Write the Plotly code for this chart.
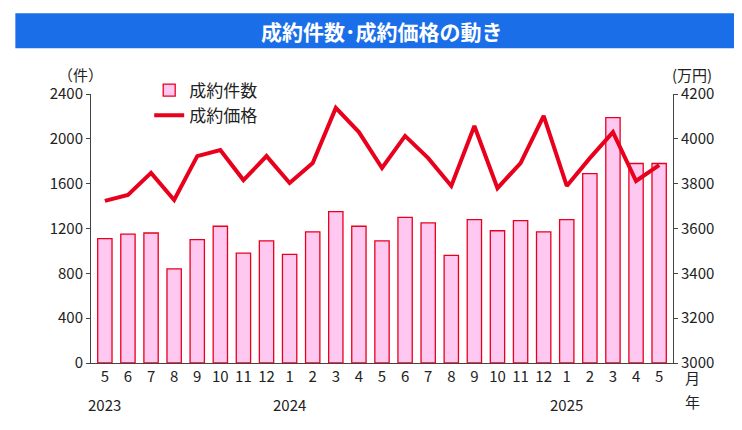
import plotly.graph_objects as go

months = ["5", "6", "7", "8", "9", "10", "11", "12", "1", "2", "3", "4", "5", "6", "7", "8",
          "9", "10", "11", "12", "1", "2", "3", "4", "5"]
years = {0: "2023", 8: "2024", 20: "2025"}
counts = [1110, 1150, 1160, 840, 1100, 1220, 980, 1090, 970, 1170, 1350, 1220, 1090, 1300,
          1250, 960, 1280, 1180, 1270, 1170, 1280, 1690, 2190, 1780, 1780]
prices = [3723, 3750, 3848, 3727, 3923, 3950, 3816, 3923, 3803, 3892, 4138, 4030, 3870, 4013,
          3914, 3790, 4057, 3780, 3892, 4102, 3790, 3914, 4030, 3812, 3883]

x = list(range(len(months)))
font = "Noto Sans CJK JP"

fig = go.Figure()
fig.add_trace(go.Bar(x=x, y=counts, name="成約件数", width=0.62,
                     marker=dict(color="#ffc8f0", line=dict(color="#e8001c", width=1.3))))
fig.add_trace(go.Scatter(x=x, y=prices, name="成約価格", yaxis="y2", mode="lines",
                         line=dict(color="#e8001c", width=4)))

fig.update_layout(
    width=742, height=430,
    margin=dict(l=83, r=77, t=86, b=75),
    paper_bgcolor="white", plot_bgcolor="white",
    font=dict(family=font, size=15, color="#222"),
    showlegend=True,
    legend=dict(x=0.1, y=1.08, xanchor="left", yanchor="top", bgcolor="rgba(0,0,0,0)",
                font=dict(size=17), tracegroupgap=0),
    xaxis=dict(tickvals=x, ticktext=months, range=[-0.6, 24.6], showline=True,
               linecolor="#444", ticks="", showgrid=False),
    yaxis=dict(range=[0, 2400], dtick=400, showline=True, linecolor="#444",
               ticks="outside", ticklen=4, showgrid=False, zeroline=False),
    yaxis2=dict(range=[3000, 4200], dtick=200, overlaying="y", side="right",
                showline=True, linecolor="#444", ticks="outside", ticklen=4,
                showgrid=False, zeroline=False),
    shapes=[dict(type="rect", xref="paper", yref="paper", x0=-0.13, x1=1.145,
                 y0=1.17, y1=1.3, fillcolor="#1a6ee8", line=dict(width=0), layer="below")],
)

ann = [dict(text="<b>成約件数･成約価格の動き</b>", xref="paper", yref="paper", x=0.5,
            y=1.235, yanchor="middle", showarrow=False, font=dict(color="white", size=21)),
       dict(text="（件）", xref="paper", yref="paper", x=-0.06, y=1.12,
            showarrow=False, font=dict(size=15)),
       dict(text="(万円)", xref="paper", yref="paper", x=1.07, y=1.12,
            showarrow=False, font=dict(size=15)),
       dict(text="月", xref="paper", yref="paper", x=1.05, y=-0.1,
            showarrow=False, font=dict(size=15)),
       dict(text="年", xref="paper", yref="paper", x=1.05, y=-0.19,
            showarrow=False, font=dict(size=15))]
for i, yr in years.items():
    ann.append(dict(text=yr, x=i, xref="x", yref="paper", y=-0.2,
                    showarrow=False, font=dict(size=15)))
fig.update_layout(annotations=ann)

fig.write_html("out.html")
